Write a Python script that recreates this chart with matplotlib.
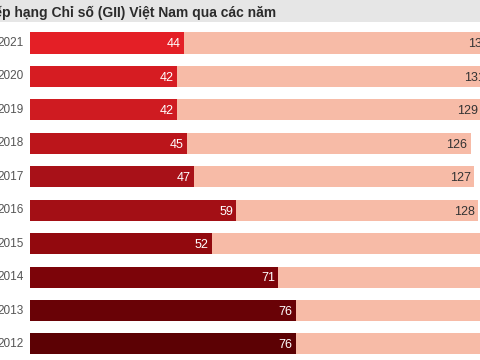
import matplotlib.pyplot as plt
from matplotlib.patches import Rectangle

years = ['2021', '2020', '2019', '2018', '2017', '2016', '2015', '2014', '2013', '2012']
ranks = [44, 42, 42, 45, 47, 59, 52, 71, 76, 76]
totals = [132, 131, 129, 126, 127, 128, 141, 143, 142, 141]
colors = ['#e41f26', '#d61c22', '#cf1b21', '#bb151b', '#a81118', '#a30f15',
          '#92090e', '#7c0409', '#690206', '#5c0104']

title = 'Xếp hạng Chỉ số (GII) Việt Nam qua các năm'

plt.rcParams['font.family'] = ['Liberation Sans', 'DejaVu Sans']

fig = plt.figure(figsize=(4.8, 3.6), dpi=100)
fig.patch.set_facecolor('white')
# grey title band
fig.patches.append(Rectangle((0, 1 - 22 / 360), 1, 22 / 360, transform=fig.transFigure,
                             facecolor='#e6e6e6', edgecolor='none', zorder=0))
ax = fig.add_axes([0, 0, 1, 1])
ax.set_facecolor('none')

pos = list(range(len(years)))
ax.barh(pos, totals, height=0.63, color='#f7bba7', zorder=1)
ax.barh(pos, ranks, height=0.63, color=colors, zorder=2)

for i in pos:
    ax.text(ranks[i] - 1.0, i + 0.04, str(ranks[i]), color='white', fontsize=9,
            ha='right', va='center', zorder=3)
    ax.text(totals[i] - 1.0, i + 0.04, str(totals[i]), color='#333333', fontsize=9,
            ha='right', va='center', zorder=3)
    ax.text(-1.9, i, years[i], color='#555555', fontsize=8.5,
            ha='right', va='center', zorder=3)

ax.set_xlim(-30 / 3.5, 450 / 3.5)
ax.set_ylim((360 - 43) / 33.44, -43 / 33.44)
ax.axis('off')

fig.text(-15 / 480, 1 - 13 / 360, title, fontsize=10, fontweight='bold',
         color='#2b2b2b', ha='left', va='center')

fig.savefig('out.png', dpi=100)
